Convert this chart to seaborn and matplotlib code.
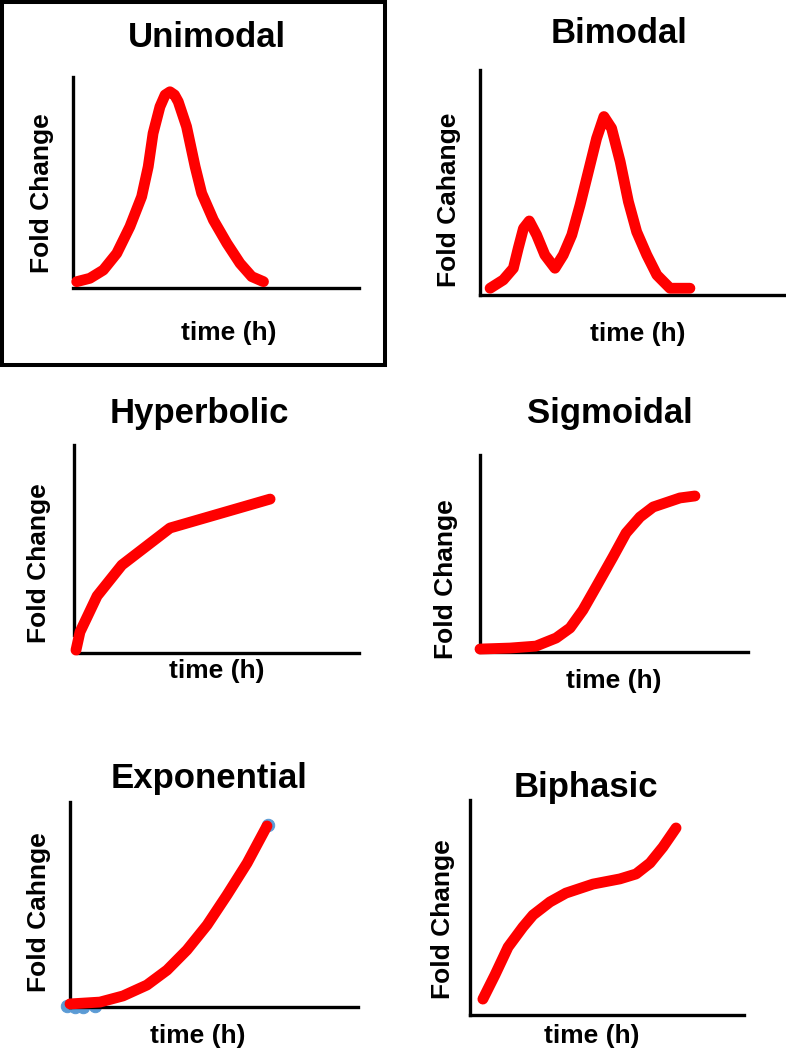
import matplotlib
matplotlib.use("Agg")
import matplotlib.pyplot as plt
from matplotlib.patches import Rectangle
import seaborn as sns

# ---------------- data (arbitrary units, axes span 0..10) ----------------
titles = ["Unimodal", "Bimodal", "Hyperbolic", "Sigmoidal", "Exponential", "Biphasic"]
ylabels = ["Fold Change", "Fold Cahange", "Fold Change", "Fold Change", "Fold Cahnge", "Fold Change"]
xlabel = "time (h)"

uni_t = [0.13, 0.59, 1.06, 1.53, 1.99, 2.40, 2.63, 2.80, 3.04, 3.22, 3.39, 3.55, 3.68, 3.97, 4.27, 4.50, 4.91, 5.38, 5.84, 6.25, 6.66]
uni_fc = [0.30, 0.46, 0.85, 1.64, 2.91, 4.33, 5.75, 7.33, 8.59, 9.15, 9.30, 9.15, 8.83, 7.65, 5.75, 4.49, 3.22, 2.12, 1.17, 0.54, 0.30]

bi_t = [0.33, 0.76, 1.09, 1.25, 1.42, 1.61, 1.85, 2.12, 2.45, 2.72, 3.00, 3.27, 3.54, 3.81, 4.05, 4.30, 4.58, 4.85, 5.12, 5.45, 5.78, 6.21, 6.86]
bi_fc = [0.30, 0.67, 1.19, 2.08, 2.96, 3.29, 2.67, 1.78, 1.19, 1.78, 2.67, 4.00, 5.48, 6.96, 7.93, 7.41, 5.93, 4.15, 2.81, 1.78, 0.89, 0.30, 0.30]

hyp_t = [0.07, 0.21, 0.46, 0.81, 1.68, 3.37, 6.88]
hyp_fc = [0.14, 1.01, 1.73, 2.74, 4.23, 6.01, 7.40]

sig_t = [0.0, 1.12, 2.09, 2.84, 3.36, 3.84, 4.33, 4.96, 5.45, 5.97, 6.46, 7.46, 8.02]
sig_fc = [0.15, 0.20, 0.30, 0.71, 1.22, 2.13, 3.30, 4.82, 6.04, 6.85, 7.36, 7.82, 7.92]

exp_t = [0.0, 1.04, 1.84, 2.67, 3.37, 4.06, 4.76, 5.45, 6.15, 6.84]
exp_fc = [0.15, 0.24, 0.54, 1.07, 1.80, 2.78, 4.00, 5.46, 7.02, 8.83]
exp_pts_t = [-0.10, 0.17, 0.45, 0.87, 6.86]
exp_pts_fc = [0.05, 0.02, 0.02, 0.05, 8.90]

bph_t = [0.47, 0.91, 1.39, 1.93, 2.30, 2.92, 3.50, 4.49, 5.47, 6.06, 6.57, 7.04, 7.52]
bph_fc = [0.74, 1.86, 3.16, 4.09, 4.65, 5.26, 5.67, 6.09, 6.33, 6.56, 7.07, 7.81, 8.70]

series = [(uni_t, uni_fc), (bi_t, bi_fc), (hyp_t, hyp_fc),
          (sig_t, sig_fc), (exp_t, exp_fc), (bph_t, bph_fc)]

# ---------------- layout (pixels) ----------------
W, H = 786, 1050
layout = [
    dict(box=(73, 359, 77, 288), title=(207, 47), xl=(229, 340), yl=(49, 193), yb=(0.5, 10), xb=(0, 10)),
    dict(box=(480, 786, 70, 295), title=(619, 43), xl=(638, 341), yl=(456, 200), yb=(0, 10), xb=(0, 10)),
    dict(box=(74, 359, 445, 653), title=(199, 423), xl=(217, 678), yl=(46, 563), yb=(0.87, 10), xb=(0.14, 10)),
    dict(box=(480, 748, 455, 652), title=(610, 423), xl=(614, 688), yl=(453, 579), yb=(0.36, 10), xb=(0, 10)),
    dict(box=(70, 358, 802, 1007), title=(209, 788), xl=(198, 1043), yl=(46, 912), yb=(0, 10), xb=(0, 10)),
    dict(box=(470, 744, 800, 1015), title=(586, 797), xl=(592, 1043), yl=(450, 919), yb=(0, 10), xb=(0, 10)),
]

sns.set_theme(style="white")
plt.rcParams["font.family"] = ["Liberation Sans", "DejaVu Sans"]

fig = plt.figure(figsize=(W / 100, H / 100), dpi=100)
fig.patch.set_facecolor("white")

RED = "#FF0000"
for i, (lay, (t, fc)) in enumerate(zip(layout, series)):
    l, r, top, b = lay["box"]
    ax = fig.add_axes([l / W, 1 - b / H, (r - l) / W, (b - top) / H])
    ax.set_facecolor("none")
    ax.set_xlim(0, 10)
    ax.set_ylim(0, 10)

    def to_ax(px, py):
        return (px - l) / (r - l), (b - py) / (b - top)

    if i == 4:
        sns.scatterplot(x=exp_pts_t, y=exp_pts_fc, ax=ax, color="#5B9BD5",
                        s=80, edgecolor="#5B9BD5", clip_on=False, zorder=1)
    sns.lineplot(x=t, y=fc, ax=ax, color=RED, lw=7.8, sort=False, estimator=None,
                 solid_capstyle="round", solid_joinstyle="round", clip_on=False, zorder=3)

    for s in ("top", "right"):
        ax.spines[s].set_visible(False)
    for s in ("left", "bottom"):
        ax.spines[s].set_linewidth(2.4)
        ax.spines[s].set_color("black")
    ax.spines["left"].set_bounds(*lay["yb"])
    ax.spines["bottom"].set_bounds(*lay["xb"])
    ax.set_xticks([])
    ax.set_yticks([])

    tx, ty = to_ax(*lay["title"])
    ax.text(tx, ty, titles[i], transform=ax.transAxes, ha="center", va="baseline",
            fontsize=25, fontweight="bold", color="black")

    ax.set_xlabel(xlabel, fontsize=19, fontweight="bold", color="black")
    ax.xaxis.set_label_coords(*to_ax(*lay["xl"]))
    ax.xaxis.label.set_va("baseline")

    ax.set_ylabel(ylabels[i], fontsize=19, fontweight="bold", color="black")
    ax.yaxis.set_label_coords(*to_ax(*lay["yl"]))
    ax.yaxis.label.set_va("baseline")

# frame around the first panel
fig.add_artist(Rectangle((2 / W, 1 - 365 / H), 383 / W, 363 / H, transform=fig.transFigure,
                         fill=False, lw=2.9, ec="black"))

fig.savefig("out.png", dpi=100, facecolor="white")
